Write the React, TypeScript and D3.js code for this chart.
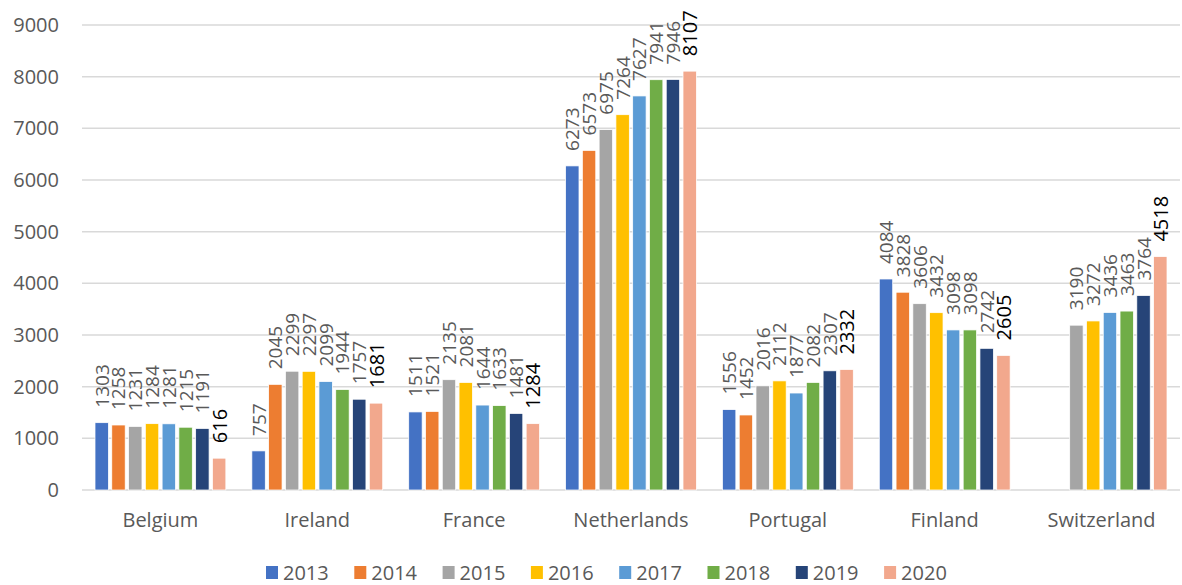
import { useEffect, useRef } from 'react';
import * as d3 from 'd3';

const countries = ['Belgium', 'Ireland', 'France', 'Netherlands', 'Portugal', 'Finland', 'Switzerland'];
const years = ['2013', '2014', '2015', '2016', '2017', '2018', '2019', '2020'];
const colors = ['#4472C4', '#ED7D31', '#A5A5A5', '#FFC000', '#5B9BD5', '#70AD47', '#264478', '#F2A88D'];

// values per country, one entry per year (null = no data)
const belgium = [1303, 1258, 1231, 1284, 1281, 1215, 1191, 616];
const ireland = [757, 2045, 2299, 2297, 2099, 1944, 1757, 1681];
const france = [1511, 1521, 2135, 2081, 1644, 1633, 1481, 1284];
const netherlands = [6273, 6573, 6975, 7264, 7627, 7941, 7946, 8107];
const portugal = [1556, 1452, 2016, 2112, 1877, 2082, 2307, 2332];
const finland = [4084, 3828, 3606, 3432, 3098, 3098, 2742, 2605];
const switzerland = [null, null, 3190, 3272, 3436, 3463, 3764, 4518];

const values: (number | null)[][] = [belgium, ireland, france, netherlands, portugal, finland, switzerland];
const yTicks = [0, 1000, 2000, 3000, 4000, 5000, 6000, 7000, 8000, 9000];

const W = 1182;
const H = 585;
const FONT = "'Open Sans', 'Liberation Sans', sans-serif";

export default function App() {
  const svgRef = useRef<SVGSVGElement>(null);

  useEffect(() => {
    if (!svgRef.current) return;
    const svg = d3.select(svgRef.current);
    svg.selectAll('*').remove();

    const left = 82;
    const right = 1180;
    const top = 25;
    const bottom = 490;

    const y = d3.scaleLinear().domain([0, 9000]).range([bottom, top]);
    const x0 = d3.scaleBand().domain(countries).range([left, right]);
    const x1 = d3.scaleBand().domain(years).range([13, x0.bandwidth() - 13]).paddingInner(0.2);

    // gridlines
    svg.append('g')
      .selectAll('line')
      .data(yTicks)
      .join('line')
      .attr('x1', left)
      .attr('x2', right)
      .attr('y1', d => y(d))
      .attr('y2', d => y(d))
      .attr('stroke', '#D9D9D9')
      .attr('stroke-width', 1.5);

    // y labels
    svg.append('g')
      .selectAll('text')
      .data(yTicks)
      .join('text')
      .attr('x', 59)
      .attr('y', d => y(d))
      .attr('dy', '0.35em')
      .attr('text-anchor', 'end')
      .attr('font-family', FONT)
      .attr('font-size', 20)
      .attr('fill', '#595959')
      .text(d => d);

    const groups = svg.append('g')
      .selectAll('g')
      .data(countries)
      .join('g')
      .attr('transform', d => `translate(${x0(d)},0)`);

    const cells = groups.selectAll('g')
      .data((c, i) => years.map((yr, j) => ({ yr, j, v: values[i][j] })).filter(d => d.v !== null))
      .join('g');

    cells.append('rect')
      .attr('x', d => x1(d.yr)!)
      .attr('width', x1.bandwidth())
      .attr('y', d => y(d.v as number))
      .attr('height', d => bottom - y(d.v as number))
      .attr('fill', d => colors[d.j])
      .attr('stroke', '#fff')
      .attr('stroke-width', 0.75);

    cells.append('text')
      .attr('transform', d => `translate(${x1(d.yr)! + x1.bandwidth() / 2},${y(d.v as number) - 15}) rotate(-90)`)
      .attr('dominant-baseline', 'central')
      .attr('font-family', FONT)
      .attr('font-size', d => (d.j === 7 ? 20 : 19))
      .attr('fill', d => (d.j === 7 ? '#000' : '#595959'))
      .text(d => d.v as number);

    // category labels
    svg.append('g')
      .selectAll('text')
      .data(countries)
      .join('text')
      .attr('x', d => x0(d)! + x0.bandwidth() / 2)
      .attr('y', 527)
      .attr('text-anchor', 'middle')
      .attr('font-family', FONT)
      .attr('font-size', 20)
      .attr('fill', '#595959')
      .text(d => d);

    // legend
    const legend = svg.append('g')
      .selectAll('g')
      .data(years)
      .join('g')
      .attr('transform', (d, i) => `translate(${266 + i * 88.3},566)`);
    legend.append('rect')
      .attr('width', 12)
      .attr('height', 13)
      .attr('fill', (d, i) => colors[i]);
    legend.append('text')
      .attr('x', 17)
      .attr('y', 14)
      .attr('font-family', FONT)
      .attr('font-size', 20)
      .attr('fill', '#595959')
      .text(d => d);
  }, []);

  return (
    <svg
      ref={svgRef}
      width={W}
      height={H}
      style={{ position: 'absolute', left: 0, top: 0, background: '#fff' }}
    />
  );
}
